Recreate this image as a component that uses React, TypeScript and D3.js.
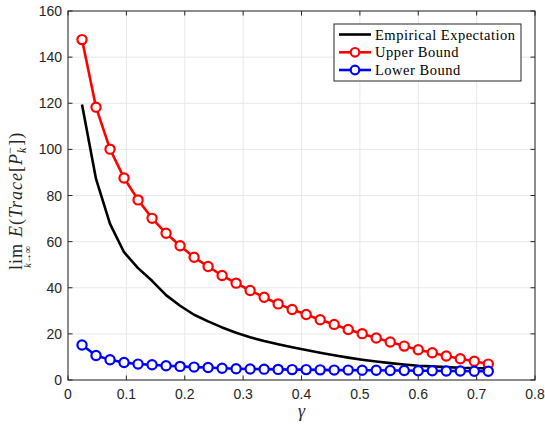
import React from 'react';
import * as d3 from 'd3';

// gamma values (x axis)
const gammas = [
  0.024, 0.048, 0.072, 0.096, 0.12, 0.144, 0.168, 0.192, 0.216, 0.24,
  0.264, 0.288, 0.312, 0.336, 0.36, 0.384, 0.408, 0.432, 0.456, 0.48,
  0.504, 0.528, 0.552, 0.576, 0.6, 0.624, 0.648, 0.672, 0.696, 0.72,
];

const empirical = [
  119.5, 87.2, 67.7, 55.4, 48.5, 43.0, 36.8, 32.2, 28.3, 25.4,
  22.8, 20.5, 18.5, 16.9, 15.5, 14.2, 13.0, 11.8, 10.7, 9.7,
  8.8, 8.0, 7.3, 6.7, 6.2, 5.9, 5.6, 5.3, 5.2, 5.0,
];

const upperBound = [
  147.6, 118.3, 100.1, 87.6, 78.1, 70.1, 63.6, 58.2, 53.2, 49.2,
  45.3, 42.0, 38.8, 35.9, 33.0, 30.6, 28.4, 26.1, 24.1, 21.9,
  20.1, 18.2, 16.5, 14.7, 13.1, 11.8, 10.4, 9.2, 8.1, 6.9,
];

const lowerBound = [
  15.2, 10.6, 8.8, 7.6, 6.9, 6.6, 6.2, 5.9, 5.6, 5.4,
  5.1, 4.9, 4.8, 4.7, 4.6, 4.5, 4.5, 4.4, 4.3, 4.3,
  4.2, 4.2, 4.1, 4.1, 4.0, 4.0, 3.9, 3.9, 3.8, 3.8,
];

const xTicks = [0, 0.1, 0.2, 0.3, 0.4, 0.5, 0.6, 0.7, 0.8];
const yTicks = [0, 20, 40, 60, 80, 100, 120, 140, 160];

const legendLabels = ['Empirical Expectation', 'Upper Bound', 'Lower Bound'];

const W = 545;
const H = 428;
const margin = { top: 11, right: 10, bottom: 48, left: 68 };
const axisColor = '#262626';
const gridColor = '#e8e8e8';
const tickFont = '"Liberation Sans", Arial, sans-serif';
const mathFont = '"Liberation Serif", "Times New Roman", serif';

const App = () => {
  const x = d3.scaleLinear().domain([0, 0.8]).range([margin.left, W - margin.right]);
  const y = d3.scaleLinear().domain([0, 160]).range([H - margin.bottom, margin.top]);
  const [x0, x1] = x.range();
  const [y0, y1] = y.range();
  const tickLen = 4.5;

  const line = d3.line<number>()
    .x((d, i) => x(gammas[i]))
    .y(d => y(d));

  const series = [
    { values: empirical, color: '#000000', markers: false },
    { values: upperBound, color: '#ff0000', markers: true },
    { values: lowerBound, color: '#0000ff', markers: true },
  ];

  // legend box
  const lg = { x: 334, y: 24, w: 187, h: 57 };
  const rowY = [34.5, 52.3, 70];

  return (
    <svg width={W} height={H} style={{ position: 'absolute', left: 0, top: 0, background: '#fff' }}>
      <rect x={0} y={0} width={W} height={H} fill="#fff" />
      {/* grid */}
      {xTicks.map(t => (
        <line key={'gx' + t} x1={x(t)} x2={x(t)} y1={y0} y2={y1} stroke={gridColor} strokeWidth={1} />
      ))}
      {yTicks.map(t => (
        <line key={'gy' + t} x1={x0} x2={x1} y1={y(t)} y2={y(t)} stroke={gridColor} strokeWidth={1} />
      ))}

      {/* data */}
      {series.map((s, si) => (
        <g key={si}>
          <path d={line(s.values) || ''} fill="none" stroke={s.color} strokeWidth={2.6} strokeLinejoin="round" />
          {s.markers && s.values.map((v, i) => (
            <circle key={i} cx={x(gammas[i])} cy={y(v)} r={4.6} fill="#fff" stroke={s.color} strokeWidth={2.2} />
          ))}
        </g>
      ))}

      {/* axes box */}
      <rect x={x0} y={y1} width={x1 - x0} height={y0 - y1} fill="none" stroke={axisColor} strokeWidth={1} />
      {xTicks.map(t => (
        <g key={'tx' + t}>
          <line x1={x(t)} x2={x(t)} y1={y0} y2={y0 - tickLen} stroke={axisColor} />
          <line x1={x(t)} x2={x(t)} y1={y1} y2={y1 + tickLen} stroke={axisColor} />
          <text x={x(t)} y={y0 + 19} textAnchor="middle" fontFamily={tickFont} fontSize={14} fill={axisColor}>
            {t === 0 ? '0' : String(t)}
          </text>
        </g>
      ))}
      {yTicks.map(t => (
        <g key={'ty' + t}>
          <line x1={x0} x2={x0 + tickLen} y1={y(t)} y2={y(t)} stroke={axisColor} />
          <line x1={x1} x2={x1 - tickLen} y1={y(t)} y2={y(t)} stroke={axisColor} />
          <text x={x0 - 6} y={y(t) + 5} textAnchor="end" fontFamily={tickFont} fontSize={14} fill={axisColor}>
            {t}
          </text>
        </g>
      ))}

      {/* x label */}
      <text x={(x0 + x1) / 2} y={417} textAnchor="middle" fontFamily={mathFont} fontStyle="italic" fontSize={18} fill={axisColor}>
        γ
      </text>

      {/* y label */}
      <g transform="translate(22, 270) rotate(-90)" fill={axisColor} fontFamily={mathFont}>
        <text x={0} y={0} fontSize={18} letterSpacing={1}>
          <tspan>lim</tspan>
          <tspan dx={6} fontStyle="italic">E</tspan>
          <tspan>(</tspan>
          <tspan fontStyle="italic">Trace</tspan>
          <tspan>[</tspan>
          <tspan fontStyle="italic">P</tspan>
          <tspan fontStyle="italic" fontSize={12} dy={4}>k</tspan>
          <tspan fontSize={12} dx={-7} dy={-12}>−</tspan>
          <tspan dy={8}>])</tspan>
        </text>
        <text x={13} y={9} fontSize={10} textAnchor="middle" fontStyle="italic">
          k→∞
        </text>
      </g>

      {/* legend */}
      <rect x={lg.x} y={lg.y} width={lg.w} height={lg.h} fill="#fff" stroke={axisColor} strokeWidth={1} />
      {series.map((s, i) => (
        <g key={'lg' + i}>
          <line x1={339} x2={371} y1={rowY[i]} y2={rowY[i]} stroke={s.color} strokeWidth={2.6} />
          {s.markers && <circle cx={355} cy={rowY[i]} r={4.3} fill="#fff" stroke={s.color} strokeWidth={2.2} />}
          <text x={375} y={rowY[i] + 5} fontFamily={mathFont} fontSize={14.5} letterSpacing={0.5} fill="#000">
            {legendLabels[i]}
          </text>
        </g>
      ))}
    </svg>
  );
};

export default App;
